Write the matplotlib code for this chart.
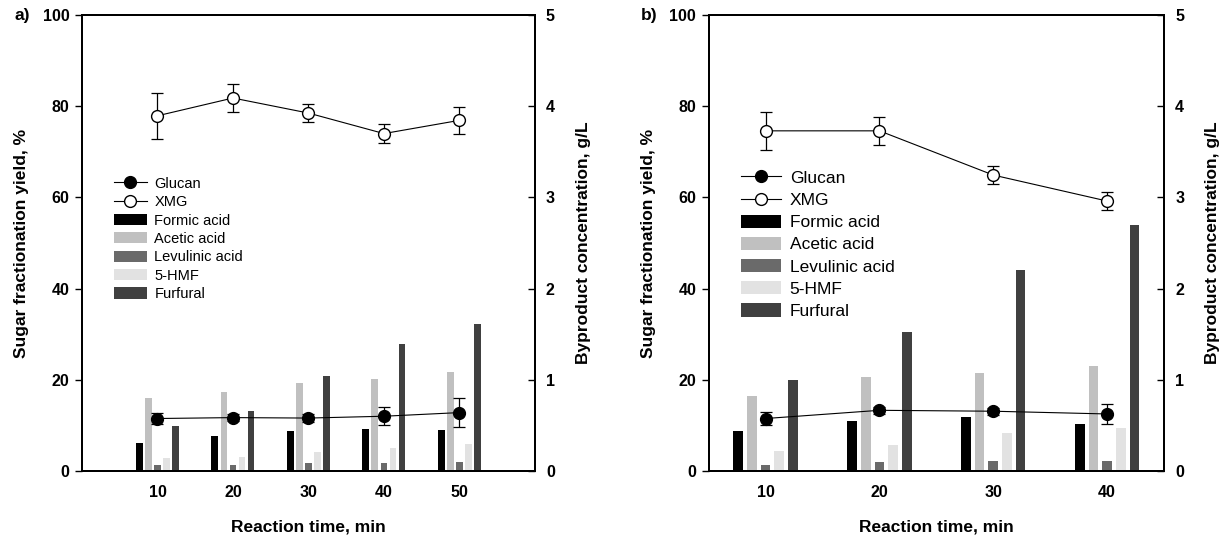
import numpy as np
import matplotlib
matplotlib.use('Agg')
import matplotlib.pyplot as plt
from matplotlib.patches import Patch
from matplotlib.lines import Line2D

plt.rcParams['font.family'] = ['Liberation Sans', 'DejaVu Sans']

# panel a) data
time_a = [10, 20, 30, 40, 50]
glucan_a = [11.5, 11.7, 11.6, 12.0, 12.8]
glucan_a_err = [1.3, 0.8, 0.8, 2.0, 3.1]
xmg_a = [77.9, 81.8, 78.5, 74.0, 76.9]
xmg_a_err = [5.0, 3.0, 2.0, 2.0, 2.9]
formic_a = [0.31, 0.38, 0.44, 0.46, 0.45]
acetic_a = [0.80, 0.87, 0.96, 1.01, 1.09]
levulinic_a = [0.07, 0.07, 0.09, 0.09, 0.10]
hmf_a = [0.14, 0.15, 0.21, 0.25, 0.30]
furfural_a = [0.49, 0.66, 1.04, 1.39, 1.61]

# panel b) data
time_b = [10, 20, 30, 40]
glucan_b = [11.5, 13.3, 13.1, 12.5]
glucan_b_err = [1.35, 0.8, 0.8, 2.1]
xmg_b = [74.6, 74.6, 64.9, 59.2]
xmg_b_err = [4.1, 3.1, 2.0, 2.0]
formic_b = [0.44, 0.55, 0.59, 0.51]
acetic_b = [0.82, 1.03, 1.07, 1.15]
levulinic_b = [0.07, 0.10, 0.11, 0.11]
hmf_b = [0.22, 0.28, 0.42, 0.47]
furfural_b = [1.00, 1.52, 2.20, 2.70]

byproduct_names = ['Formic acid', 'Acetic acid', 'Levulinic acid', '5-HMF', 'Furfural']
byproduct_colors = ['#000000', '#c0c0c0', '#6a6a6a', '#e2e2e2', '#404040']
bar_offsets = [-2.4, -1.2, 0.0, 1.2, 2.4]

fig = plt.figure(figsize=(12.24, 5.37), dpi=100)


def panel(rect, t, glu, glu_err, xmg, xmg_err, byprods, xlim, bar_w, tag, leg_size, leg_pos, leg_space):
    ax = fig.add_axes(rect)
    ax2 = ax.twinx()
    t = np.array(t)

    # bars on the right axis
    for vals, off, c in zip(byprods, bar_offsets, byproduct_colors):
        ax2.bar(t + off, vals, width=bar_w, color=c, edgecolor='none')

    # sugar yields on the left axis, drawn above the bars
    ax.set_zorder(ax2.get_zorder() + 1)
    ax.patch.set_visible(False)
    ax.errorbar(t, glu, yerr=glu_err, fmt='-o', color='black', mfc='black', mec='black',
                ms=8.5, lw=0.8, elinewidth=0.9, capsize=4, capthick=0.9)
    ax.errorbar(t, xmg, yerr=xmg_err, fmt='-o', color='black', mfc='white', mec='black',
                ms=8.5, lw=0.8, elinewidth=0.9, capsize=4, capthick=0.9)

    ax.set_xlim(*xlim)
    ax.set_ylim(0, 100)
    ax2.set_ylim(0, 5)
    ax.set_xticks(t)
    ax.set_yticks([0, 20, 40, 60, 80, 100])
    ax2.set_yticks([0, 1, 2, 3, 4, 5])

    for a in (ax, ax2):
        for s in a.spines.values():
            s.set_linewidth(1.4)
    ax.tick_params(axis='x', length=0, pad=10, labelsize=11.5)
    ax.tick_params(axis='y', direction='out', length=5, width=1, pad=4, labelsize=11.5)
    ax2.tick_params(axis='y', direction='in', length=5, width=1, pad=8, labelsize=11.5)
    for lab in ax.get_xticklabels() + ax.get_yticklabels() + ax2.get_yticklabels():
        lab.set_fontweight('bold')

    ax.set_xlabel('Reaction time, min', fontsize=12.5, fontweight='bold', labelpad=14)
    ax.set_ylabel('Sugar fractionation yield, %', fontsize=12.5, fontweight='bold', labelpad=10)
    ax2.set_ylabel('Byproduct concentration, g/L', fontsize=12.5, fontweight='bold', labelpad=15)

    handles = [
        Line2D([], [], color='black', lw=0.8, marker='o', ms=8.5, mfc='black', mec='black'),
        Line2D([], [], color='black', lw=0.8, marker='o', ms=8.5, mfc='white', mec='black'),
    ] + [Patch(facecolor=c, edgecolor='none') for c in byproduct_colors]
    labels = ['Glucan', 'XMG'] + byproduct_names
    ax.legend(handles, labels, loc='upper left', bbox_to_anchor=leg_pos, frameon=False,
              fontsize=leg_size, handlelength=2.3, handleheight=0.8, labelspacing=leg_space,
              handletextpad=0.5, borderaxespad=0)

    ax.text(-0.15, 1.0, tag, transform=ax.transAxes, fontsize=12.5, fontweight='bold',
            ha='left', va='center')
    return ax


panel([0.067, 0.123, 0.370, 0.849], time_a, glucan_a, glucan_a_err, xmg_a, xmg_a_err,
      [formic_a, acetic_a, levulinic_a, hmf_a, furfural_a], (0, 60), 0.9, 'a)',
      10.5, (0.057, 0.658), 0.3)
panel([0.579, 0.123, 0.372, 0.849], time_b, glucan_b, glucan_b_err, xmg_b, xmg_b_err,
      [formic_b, acetic_b, levulinic_b, hmf_b, furfural_b], (5, 45), 0.85, 'b)',
      12.5, (0.056, 0.675), 0.375)

fig.savefig('out.png', dpi=100)
